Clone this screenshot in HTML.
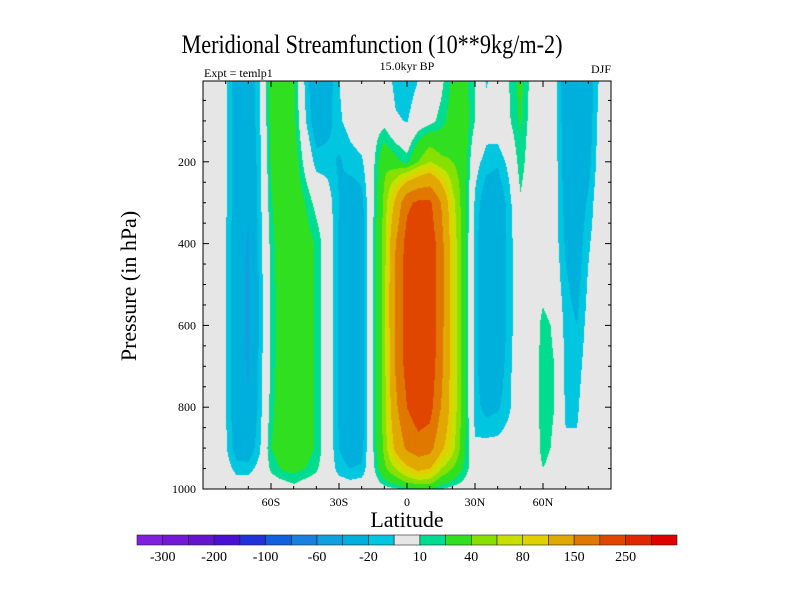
<!DOCTYPE html>
<html><head><meta charset="utf-8"><style>
html,body{margin:0;padding:0;background:#fff;width:800px;height:600px;overflow:hidden}
#wrap{position:relative;width:800px;height:600px}
canvas,svg{position:absolute;left:0;top:0}
text{font-family:"Liberation Serif",serif;fill:#000}
</style></head><body>
<div id="wrap">
<canvas id="cv" width="800" height="600"></canvas>
<svg id="sv" width="800" height="600"></svg>
</div>
<script>
// ---- data ----
const lats = [-90,-85,-80,-75,-70,-65,-60,-55,-50,-45,-40,-35,-30,-25,-20,-15,-10,-5,0,5,10,15,20,25,30,35,40,45,50,55,60,65,70,75,80,85,90];
const pressures = [0,100,200,300,400,500,600,700,800,900,950,1000];
// one profile per latitude (values at each pressure)
const field = [
[0,0,0,0,0,0,0,0,0,0,0,0],
[0,0,0,0,0,0,0,0,0,0,0,0],
[-8,-8,-8,-8,-9,-9,-9,-9,-9,-8,-3,0],
[-28,-28,-29,-30,-32,-34,-34,-33,-32,-28,-15,0],
[-33,-33,-35,-38,-42,-43,-43,-42,-38,-30,-15,0],
[-12,-12,-14,-15,-16,-18,-18,-17,-16,-12,-5,0],
[25,25,22,18,14,12,12,12,15,20,12,0],
[35,35,35,35,33,32,32,32,32,30,22,0],
[22,25,30,33,35,35,35,35,35,33,25,5],
[-12,-8,5,20,28,30,30,30,30,28,20,0],
[-35,-30,-15,5,18,18,18,18,18,18,12,0],
[-28,-25,-15,-3,0,0,0,0,0,0,0,0],
[-10,-12,-22,-20,-22,-22,-22,-22,-22,-20,-15,0],
[-3,-5,-15,-30,-32,-33,-33,-33,-32,-30,-20,-2],
[0,0,-12,-25,-28,-28,-28,-28,-28,-25,-18,0],
[0,2,6,8,9,9,9,9,9,9,6,0],
[0,5,35,45,48,50,50,50,48,45,35,5],
[-15,-8,25,110,150,160,160,155,140,110,60,8],
[-18,-11,15,190,220,225,225,220,200,160,90,15],
[-10,0,40,210,240,245,245,240,230,180,110,20],
[0,5,60,210,235,240,240,235,220,170,100,20],
[6,14,45,150,170,170,170,165,150,110,60,10],
[22,28,40,70,80,80,80,80,80,70,40,5],
[25,30,30,28,28,28,28,28,28,25,18,3],
[10,10,-5,-12,-15,-15,-15,-15,-15,-8,0,0],
[-12,-3,-15,-30,-35,-35,-35,-33,-25,-5,0,0],
[0,0,-18,-32,-35,-35,-35,-30,-22,-5,0,0],
[10,8,-6,-15,-15,-15,-15,-13,-12,-3,0,0],
[25,22,16,8,0,0,0,0,0,0,0,0],
[5,3,0,0,0,0,0,0,0,0,0,0],
[0,0,0,0,0,5,14,15,15,14,10,0],
[-3,-3,-3,-3,-3,0,8,10,10,8,5,0],
[-30,-30,-28,-25,-22,-18,-15,-13,-12,-8,-3,0],
[-35,-35,-33,-30,-28,-25,-20,-15,-12,-8,-3,0],
[-30,-28,-25,-18,-12,-8,-5,-3,0,0,0,0],
[-8,-5,-3,0,0,0,0,0,0,0,0,0],
[0,0,0,0,0,0,0,0,0,0,0,0]
];
const levels = [-300,-250,-200,-150,-100,-80,-60,-40,-20,-10,10,20,40,60,80,100,150,200,250,300];
const levelLabels = ["-300","-200","-100","-60","-20","10","40","80","150","250"];
const colors = ["#8020dc","#7418d6","#6414cc","#4a10d4","#2032d8","#1060e0","#1a80e0","#10a0e0","#00b0dc","#00c6e0","#e6e6e6","#00dc90","#30e020","#88e000","#c8e000","#e0d000","#e0a800","#e07800","#e04600","#e02800","#e00000"];
const xTickVals = [-60,-30,0,30,60];
const xTickLabels = ["60S","30S","0","30N","60N"];
const yTickVals = [200,400,600,800,1000];

// ---- axes ----
const X0=203,X1=611,Y0=81,Y1=489;
const xs = lat => 407 + lat*(X1-X0)/180;
const ys = p => 80 + p*0.409;
function colorFor(v){let i=0;while(i<levels.length&&v>=levels[i])i++;return colors[i];}
function sample(lat,p){
  let i=Math.min(lats.length-2,Math.max(0,Math.floor((lat-lats[0])/5)));
  let tx=(lat-lats[i])/(lats[i+1]-lats[i]);
  let j=0;while(j<pressures.length-2&&p>pressures[j+1])j++;
  let ty=(p-pressures[j])/(pressures[j+1]-pressures[j]);
  tx=Math.max(0,Math.min(1,tx));ty=Math.max(0,Math.min(1,ty));
  const a=field[i][j],b=field[i+1][j],c=field[i][j+1],d=field[i+1][j+1];
  return a*(1-tx)*(1-ty)+b*tx*(1-ty)+c*(1-tx)*ty+d*tx*ty;
}
const ctx=document.getElementById('cv').getContext('2d');
for(let y=Y0;y<Y1;y++){for(let x=X0;x<X1;x++){
  const lat=(x+0.5-407)*180/(X1-X0), p=(y+0.5-80)/0.409;
  ctx.fillStyle=colorFor(sample(lat,p));ctx.fillRect(x,y,1,1);
}}
// ---- svg overlay ----
const NS="http://www.w3.org/2000/svg",sv=document.getElementById('sv');
function mk(tag,at,parent){const e=document.createElementNS(NS,tag);for(const k in at)e.setAttribute(k,at[k]);(parent||sv).appendChild(e);return e;}
const frame=mk('rect',{x:X0,y:Y0,width:X1-X0,height:Y1-Y0,fill:'none',stroke:'#000','stroke-width':1});


for(let lat=-80;lat<=80;lat+=10){const x=xs(lat),L=(lat%30===0)?6:3;
  const t1=mk('line',{x1:x,x2:x,y1:Y1,y2:Y1-L,stroke:'#000'});
  
  
  const t2=mk('line',{x1:x,x2:x,y1:Y0,y2:Y0+L,stroke:'#000'});
  
  }
for(let p=50;p<1000;p+=50){const y=ys(p),L=(p%200===0)?6:3;
  const t1=mk('line',{x1:X0,x2:X0+L,y1:y,y2:y,stroke:'#000'});
  
  
  const t2=mk('line',{x1:X1,x2:X1-L,y1:y,y2:y,stroke:'#000'});
  
  }
xTickVals.forEach((v,i)=>{const t=mk('text',{x:xs(v),y:506,'text-anchor':'middle','font-size':12});t.textContent=xTickLabels[i];
  
  });
yTickVals.forEach(v=>{const t=mk('text',{x:196,y:ys(v)+4,'text-anchor':'end','font-size':12});t.textContent=String(v);
  
  });
// colorbar
const CB0=137,CBW=540/21;
colors.forEach((c,i)=>{const r=mk('rect',{x:CB0+i*CBW,y:535,width:CBW,height:10,fill:c,stroke:'#222','stroke-width':0.6});
  
  });
levelLabels.forEach((s,i)=>{const k=1+2*i;const t=mk('text',{x:CB0+k*CBW,y:561,'text-anchor':'middle','font-size':14});t.textContent=s;
  
  });
</script>
<svg width="800" height="600" style="position:absolute;left:0;top:0">
<text x="372" y="53" text-anchor="middle" font-size="26" textLength="381" lengthAdjust="spacingAndGlyphs">Meridional Streamfunction (10**9kg/m-2)</text>
<text x="204" y="77" font-size="12">Expt = temlp1</text>
<text x="407" y="70" text-anchor="middle" font-size="12">15.0kyr BP</text>
<text x="611" y="73" text-anchor="end" font-size="12">DJF</text>
<text x="407" y="527" text-anchor="middle" font-size="22">Latitude</text>
<text x="0" y="0" transform="translate(136,286) rotate(-90)" text-anchor="middle" font-size="22">Pressure (in hPa)</text>
</svg>
</body></html>
